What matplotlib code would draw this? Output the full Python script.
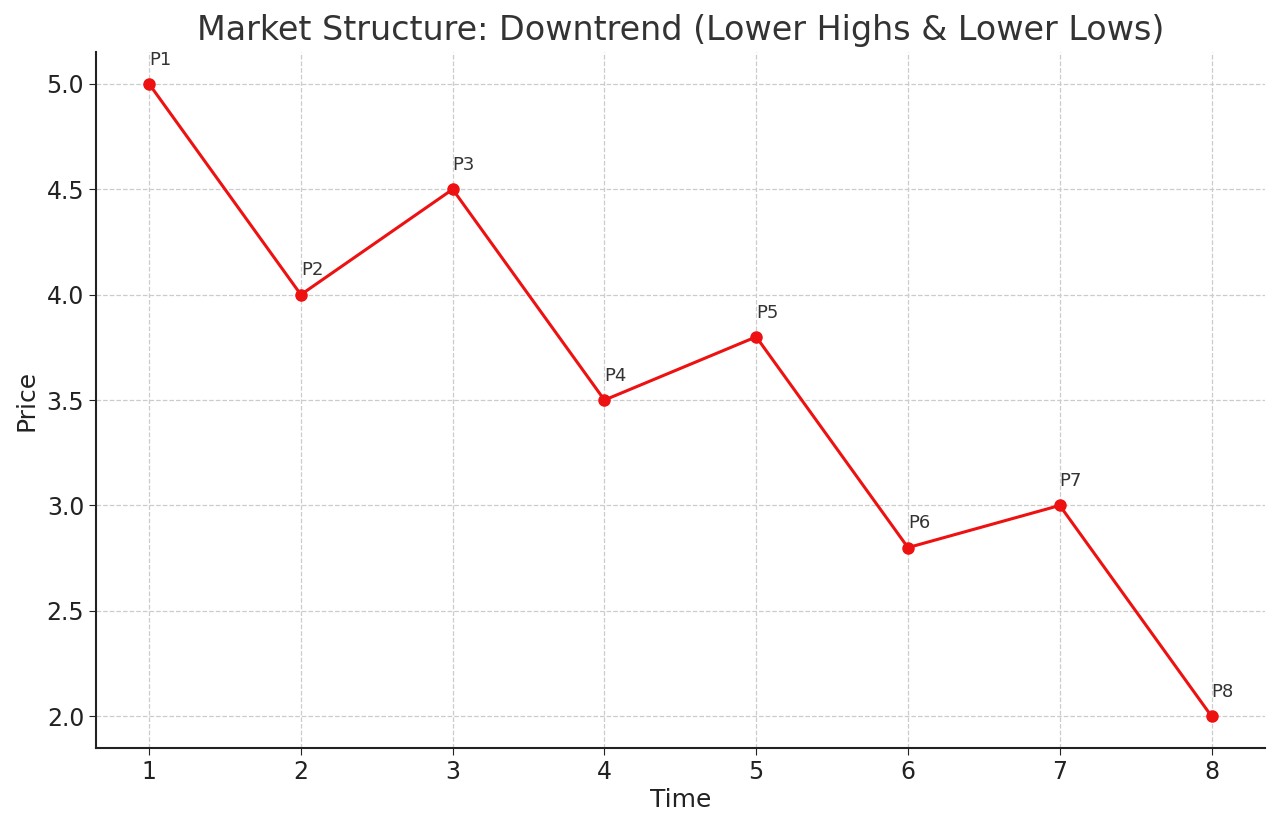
import matplotlib
matplotlib.use('Agg')
import matplotlib.pyplot as plt

time = [1, 2, 3, 4, 5, 6, 7, 8]
price = [5.0, 4.0, 4.5, 3.5, 3.8, 2.8, 3.0, 2.0]
labels = ["P1", "P2", "P3", "P4", "P5", "P6", "P7", "P8"]

plt.rcParams.update({"font.family": "DejaVu Sans"})

fig = plt.figure(figsize=(12.8, 8.3), dpi=100)
ax = fig.add_axes([0.075, 0.099, 0.913, 0.838])

ax.plot(time, price, color="#ee1111", linewidth=2.2, marker="o", markersize=8)
for x, y, lab in zip(time, price, labels):
    ax.annotate(lab, (x, y), xytext=(0, 11), textcoords="offset points",
                fontsize=13, color="#333333", ha="left", va="bottom")

ax.set_title("Market Structure: Downtrend (Lower Highs & Lower Lows)",
             fontsize=24, color="#333333", pad=9)
ax.set_xlabel("Time", fontsize=18, color="#222222", labelpad=3)
ax.set_ylabel("Price", fontsize=18, color="#222222", labelpad=6)
ax.tick_params(labelsize=17, colors="#222222", length=5)
ax.set_xticks(time)
ax.set_yticks([2.0, 2.5, 3.0, 3.5, 4.0, 4.5, 5.0])
ax.grid(True, linestyle="--", color="#cccccc", linewidth=0.9)
ax.spines["top"].set_visible(False)
ax.spines["right"].set_visible(False)
for s in ("left", "bottom"):
    ax.spines[s].set_linewidth(1.5)
    ax.spines[s].set_color("#222222")

fig.savefig("out.png", dpi=100)
